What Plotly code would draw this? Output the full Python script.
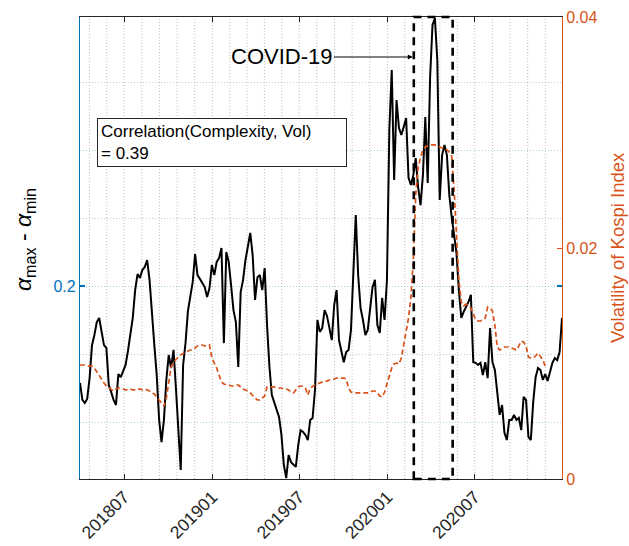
import plotly.graph_objects as go
import pandas as pd

# ---------------- data ----------------
start_date = "2018-03-31"
step = "5D"

complexity = [
    0.1715, 0.1665, 0.1656, 0.1668, 0.1729, 0.1826, 0.1856, 0.1894, 0.1906, 0.1859,
    0.1826, 0.1818, 0.1709, 0.1688, 0.1665, 0.1650, 0.1741, 0.1732, 0.1750, 0.1768,
    0.1809, 0.1859, 0.1906, 0.1988, 0.2035, 0.2024, 0.2047, 0.2056, 0.2076, 0.2018,
    0.1906, 0.1826, 0.1738, 0.1606, 0.1541, 0.1606, 0.1724, 0.1797, 0.1759, 0.1812,
    0.1700, 0.1576, 0.1459, 0.1768, 0.1832, 0.1926, 0.1968, 0.2012, 0.2094, 0.2032,
    0.2021, 0.2009, 0.1997, 0.1968, 0.1994, 0.2062, 0.2032, 0.2071, 0.2082, 0.2112,
    0.1832, 0.2100, 0.2071, 0.2003, 0.1929, 0.1894, 0.1762, 0.1982, 0.2018, 0.2076,
    0.2115, 0.2156, 0.2091, 0.1959, 0.2026, 0.2032, 0.1988, 0.2053, 0.1885, 0.1762,
    0.1679, 0.1656, 0.1632, 0.1615, 0.1562, 0.1474, 0.1435, 0.1503, 0.1482, 0.1476,
    0.1468, 0.1532, 0.1576, 0.1571, 0.1562, 0.1547, 0.1606, 0.1612, 0.1694, 0.1900,
    0.1865, 0.1876, 0.1929, 0.1912, 0.1871, 0.1841, 0.1944, 0.1988, 0.1841, 0.1812,
    0.1776, 0.1806, 0.1812, 0.1871, 0.2018, 0.2209, 0.2032, 0.1935, 0.1900, 0.1856,
    0.1871, 0.1944, 0.1997, 0.2018, 0.1885, 0.1862, 0.1965, 0.1900, 0.2018, 0.2459,
    0.2635, 0.2312, 0.2547, 0.2465, 0.2444, 0.2468, 0.2494, 0.2318, 0.2297, 0.2326,
    0.2376, 0.2291, 0.2238, 0.2326, 0.2497, 0.2303, 0.2615, 0.2768, 0.2788, 0.2665,
    0.2253, 0.2385, 0.2415, 0.2385, 0.2268, 0.2203, 0.2141, 0.2097, 0.1988, 0.1906,
    0.1924, 0.1938, 0.1953, 0.1974, 0.1776, 0.1774, 0.1768, 0.1774, 0.1738, 0.1776,
    0.1729, 0.1876, 0.1776, 0.1753, 0.1694, 0.1621, 0.1650, 0.1568, 0.1547, 0.1606,
    0.1606, 0.1621, 0.1606, 0.1612, 0.1576, 0.1674, 0.1665, 0.1556, 0.1547, 0.1659,
    0.1732, 0.1759, 0.1753, 0.1724, 0.1741, 0.1721, 0.1747, 0.1774, 0.1788, 0.1782,
    0.1806, 0.1906,
]

volatility = [
    0.00987, 0.00987, 0.00987, 0.00978, 0.00978, 0.00978, 0.00961, 0.00926, 0.00892, 0.00857,
    0.00831, 0.00805, 0.00788, 0.00771, 0.00762, 0.00779, 0.00788, 0.00788, 0.00779, 0.00771,
    0.00771, 0.00779, 0.00771, 0.00771, 0.00779, 0.00779, 0.00771, 0.00779, 0.00771, 0.00762,
    0.00745, 0.00736, 0.00710, 0.00684, 0.00649, 0.00632, 0.00701, 0.00857, 0.00970, 0.01013,
    0.01039, 0.01056, 0.01074, 0.01091, 0.01100, 0.01108, 0.01117, 0.01117, 0.01134, 0.01152,
    0.01160, 0.01160, 0.01152, 0.01152, 0.01160, 0.01048, 0.01004, 0.00961, 0.00900, 0.00840,
    0.00823, 0.00814, 0.00814, 0.00805, 0.00805, 0.00814, 0.00814, 0.00797, 0.00779, 0.00771,
    0.00762, 0.00745, 0.00719, 0.00701, 0.00684, 0.00684, 0.00701, 0.00719, 0.00797, 0.00797,
    0.00797, 0.00797, 0.00788, 0.00788, 0.00788, 0.00779, 0.00779, 0.00771, 0.00753, 0.00745,
    0.00771, 0.00797, 0.00805, 0.00805, 0.00788, 0.00727, 0.00788, 0.00805, 0.00814, 0.00823,
    0.00831, 0.00840, 0.00848, 0.00848, 0.00857, 0.00857, 0.00866, 0.00874, 0.00874, 0.00874,
    0.00874, 0.00866, 0.00788, 0.00753, 0.00745, 0.00745, 0.00745, 0.00745, 0.00745, 0.00745,
    0.00745, 0.00753, 0.00762, 0.00762, 0.00745, 0.00719, 0.00710, 0.00753, 0.00814, 0.00892,
    0.00961, 0.00996, 0.01004, 0.00996, 0.01048, 0.01160, 0.01307, 0.01394, 0.01576, 0.01896,
    0.02459, 0.02693, 0.02788, 0.02848, 0.02874, 0.02883, 0.02892, 0.02892, 0.02892, 0.02883,
    0.02874, 0.02866, 0.02866, 0.02848, 0.02831, 0.02797, 0.02502, 0.02113, 0.01723, 0.01532,
    0.01498, 0.01515, 0.01506, 0.01481, 0.01420, 0.01377, 0.01368, 0.01368, 0.01377, 0.01394,
    0.01489, 0.01481, 0.01455, 0.01333, 0.01143, 0.01117, 0.01126, 0.01143, 0.01143, 0.01143,
    0.01134, 0.01126, 0.01117, 0.01152, 0.01195, 0.01186, 0.01152, 0.01056, 0.01048, 0.01048,
    0.01065, 0.01091, 0.01065, 0.01030, 0.00978,
]

tick_dates = ["2018-07-01", "2019-01-01", "2019-07-01", "2020-01-01", "2020-07-01"]
tick_labels = ["201807", "201901", "201907", "202001", "202007"]
grid_bounds = ["2018-01-01"] + tick_dates + ["2021-01-01"]

covid_start = "2020-02-25"
covid_end = "2020-05-16"
corr_text = "Correlation(Complexity, Vol)<br>= 0.39"
left_title = "<i>α</i><sub>max</sub> - <i>α</i><sub>min</sub>"
right_title = "Volatility of Kospi Index"

# ---------------- figure ----------------
dates = pd.date_range(start_date, periods=len(complexity), freq=step)
vol_dates = dates[:len(volatility)]

BLUE = "#0072BD"
ORANGE = "#D95319"
DARK = "#262626"
FONT = "Liberation Sans, Arial, Helvetica, sans-serif"

fig = go.Figure()
fig.add_trace(go.Scatter(x=dates, y=complexity, mode="lines",
                         line=dict(color="black", width=2), yaxis="y",
                         showlegend=False))
fig.add_trace(go.Scatter(x=vol_dates, y=volatility, mode="lines",
                         line=dict(color=ORANGE, width=1.7, dash="5px,3px"),
                         yaxis="y2", showlegend=False))

x0, x1 = dates[0], dates[-1]
shapes = []
# vertical minor grid: each 6-month interval split in 5
for a, b in zip(grid_bounds[:-1], grid_bounds[1:]):
    ta, tb = pd.Timestamp(a), pd.Timestamp(b)
    for k in range(5):
        t = ta + (tb - ta) * k / 5
        if x0 < t < x1:
            shapes.append(dict(type="line", xref="x", yref="paper", x0=t, x1=t,
                               y0=0, y1=1, layer="below",
                               line=dict(color="rgba(38,38,38,0.3)", width=1, dash="1px,2px")))
# COVID dashed rectangle
shapes.append(dict(type="rect", xref="x", yref="paper", x0=covid_start, x1=covid_end,
                   y0=0, y1=1, layer="above",
                   line=dict(color="black", width=2.6, dash="8px,6px")))

HGRID = "rgba(0,114,189,0.35)"
PW, PH = 482, 462  # plot area size in px

fig.update_layout(
    width=629, height=546,
    margin=dict(l=80, r=67, t=17, b=67, autoexpand=False),
    paper_bgcolor="white", plot_bgcolor="white",
    font=dict(family=FONT, size=16, color=DARK),
    shapes=shapes,
    xaxis=dict(
        type="date", range=[x0, x1], automargin=False,
        tickvals=tick_dates, ticktext=tick_labels, tickangle=-45,
        tickfont=dict(size=17.5, color=DARK),
        ticks="inside", ticklen=5, tickcolor=DARK, tickwidth=1,
        showline=True, linecolor=DARK, linewidth=1, mirror="ticks",
        showgrid=False, zeroline=False,
    ),
    yaxis=dict(
        range=[0.14324, 0.27912], automargin=False,
        tickvals=[0.2], ticktext=["0.2"],
        tickfont=dict(size=16, color=BLUE),
        ticks="inside", ticklen=5, tickcolor=BLUE, tickwidth=1.5,
        showline=True, linecolor=BLUE, linewidth=1.2, mirror="ticks",
        showgrid=True, gridcolor=HGRID, griddash="1px,2px", gridwidth=1,
        minor=dict(tickvals=[0.16, 0.18, 0.22, 0.24, 0.26], showgrid=True,
                   gridcolor=HGRID, griddash="1px,2px", gridwidth=1, ticks=""),
        zeroline=False,
    ),
    yaxis2=dict(
        overlaying="y", side="right", range=[0, 0.04], automargin=False,
        tickvals=[0, 0.02, 0.04], ticktext=["0", "0.02", "0.04"],
        tickfont=dict(size=16, color=ORANGE),
        ticks="inside", ticklen=5, tickcolor=ORANGE, tickwidth=1,
        showline=True, linecolor=ORANGE, linewidth=1,
        showgrid=False, zeroline=False,
    ),
    annotations=[
        dict(text=left_title, x=(24 - 80) / PW, y=(479 - 240) / PH,
             xref="paper", yref="paper", xanchor="center", yanchor="middle",
             textangle=-90, showarrow=False,
             font=dict(size=23, color="black", family=FONT)),
        dict(text=right_title, x=(617 - 80) / PW, y=(479 - 248) / PH,
             xref="paper", yref="paper", xanchor="center", yanchor="middle",
             textangle=-90, showarrow=False,
             font=dict(size=18.5, color=ORANGE, family=FONT)),
        dict(text="COVID-19", x="2020-02-23", y=(479 - 57) / PH, xref="x", yref="paper",
             ax=-131, ay=0, axref="pixel", ayref="pixel",
             showarrow=True, arrowhead=2, arrowsize=1, arrowwidth=1, arrowcolor="black",
             font=dict(size=22, color="black", family=FONT)),
        dict(text=corr_text, x=(97 - 80) / PW, y=(479 - 118) / PH,
             xref="paper", yref="paper", xanchor="left", yanchor="top",
             showarrow=False, align="left", width=242, borderpad=3,
             bordercolor=DARK, borderwidth=1, bgcolor="white",
             font=dict(size=17, color="black", family=FONT)),
    ],
)

fig.write_html("out.html")
